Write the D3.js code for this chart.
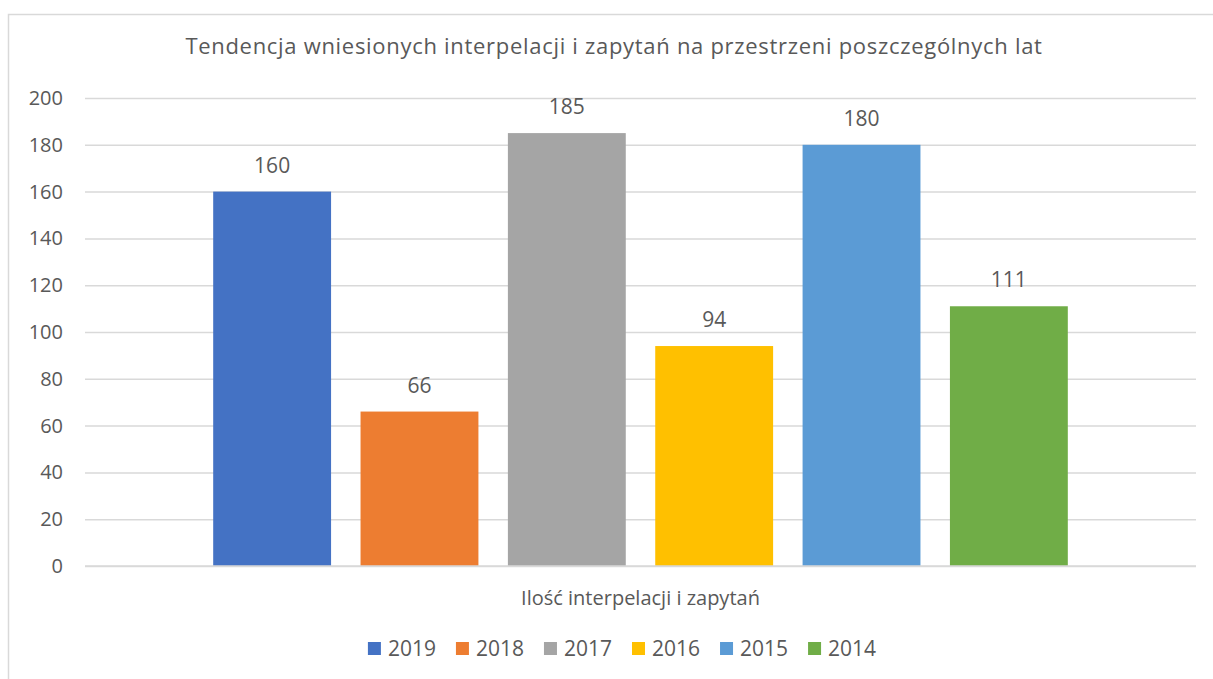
<!DOCTYPE html>
<html>
<head>
<meta charset="utf-8">
<script src="https://cdn.jsdelivr.net/npm/d3@7"></script>
<style>
  body { margin: 0; background: #fff; }
  text { font-family: "Open Sans", "Noto Sans", sans-serif; fill: #595959; }
</style>
</head>
<body>
<script>
// data
var years = ["2019", "2018", "2017", "2016", "2015", "2014"];
var values = [160, 66, 185, 94, 180, 111];
var colors = ["#4472C4", "#ED7D31", "#A5A5A5", "#FFC000", "#5B9BD5", "#70AD47"];
var yTicks = [0, 20, 40, 60, 80, 100, 120, 140, 160, 180, 200];
var category = "Ilość interpelacji i zapytań";
var title = "Tendencja wniesionych interpelacji i zapytań na przestrzeni poszczególnych lat";

var w = 1213;
var h = 679;

var svg = d3.select("body")
            .append("svg")
            .attr("width", w)
            .attr("height", h);

// chart frame (right and bottom fall outside the picture)
svg.append("rect")
    .attr("x", 8.5)
    .attr("y", 14.5)
    .attr("width", w + 20)
    .attr("height", h + 20)
    .style("fill", "#fff")
    .style("stroke", "#d9d9d9")
    .style("stroke-width", 1.5);

var plot = {left: 85, right: 1196, top: 98, bottom: 566};

var y = d3.scaleLinear().domain([0, 200]).range([plot.bottom, plot.top]);

// one category band, series inside it
var x0 = d3.scaleBand().domain([category]).range([plot.left, plot.right]).paddingOuter(0.15);
var x1 = d3.scaleBand().domain(years).range([0, x0.bandwidth()]).paddingInner(0.2);

svg.append("text")
    .attr("x", 614)
    .attr("y", 54)
    .attr("text-anchor", "middle")
    .style("font-size", "22px")
    .style("letter-spacing", "0.7px")
    .text(title);

// gridlines
var yAxis = d3.axisLeft(y)
              .tickValues(yTicks)
              .tickSize(-(plot.right - plot.left))
              .tickPadding(22);

var ga = svg.append("g")
    .attr("transform", "translate(" + plot.left + ",0)")
    .call(yAxis);
ga.select(".domain").remove();
ga.selectAll("line").style("stroke", "#d9d9d9").style("stroke-width", 1.5);
ga.selectAll("text").style("font-size", "20px").style("fill", "#595959").style("font-family", null);

var bars = svg.append("g")
    .attr("transform", "translate(" + x0(category) + ",0)");

bars.selectAll("rect")
    .data(values)
    .enter()
    .append("rect")
    .attr("x", function(d, i) { return x1(years[i]); })
    .attr("y", function(d) { return y(d); })
    .attr("width", x1.bandwidth())
    .attr("height", function(d) { return y(0) - y(d); })
    .style("fill", function(d, i) { return colors[i]; });

bars.selectAll("text")
    .data(values)
    .enter()
    .append("text")
    .attr("x", function(d, i) { return x1(years[i]) + x1.bandwidth() / 2; })
    .attr("y", function(d) { return y(d) - 19; })
    .attr("text-anchor", "middle")
    .style("font-size", "21px")
    .text(function(d) { return d; });

// baseline over the bars
svg.append("line")
    .attr("x1", plot.left)
    .attr("x2", plot.right)
    .attr("y1", y(0))
    .attr("y2", y(0))
    .style("stroke", "#d9d9d9")
    .style("stroke-width", 1.5);

svg.append("text")
    .attr("x", (plot.left + plot.right) / 2)
    .attr("y", 605)
    .attr("text-anchor", "middle")
    .style("font-size", "20px")
    .text(category);

// legend, laid out from the text widths and centred
var legend = svg.append("g");
var item = legend.selectAll("g")
    .data(years)
    .enter()
    .append("g");

item.append("rect")
    .attr("y", 642)
    .attr("width", 13)
    .attr("height", 13)
    .style("fill", function(d, i) { return colors[i]; });

item.append("text")
    .attr("x", 20)
    .attr("y", 656)
    .style("font-size", "21px")
    .text(function(d) { return d; });

var offsets = [];
var cur = 0;
item.each(function() {
    offsets.push(cur);
    cur += 20 + d3.select(this).select("text").node().getComputedTextLength() + 20;
});
var total = cur - 20;
var startX = 622 - total / 2;
item.attr("transform", function(d, i) { return "translate(" + (startX + offsets[i]) + ",0)"; });
</script>
</body>
</html>
